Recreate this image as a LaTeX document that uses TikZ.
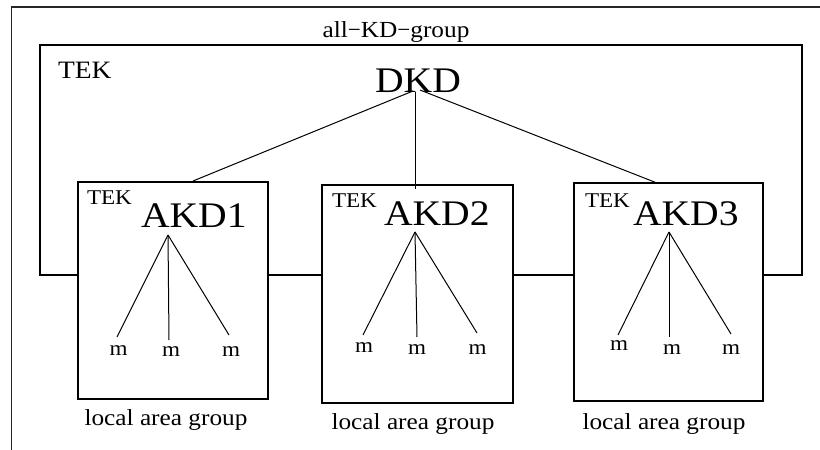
\documentclass[tikz,border=0pt]{standalone}
\usepackage{fontspec}
\setmainfont[FakeStretch=1.1]{Liberation Serif}
\begin{document}
\begin{tikzpicture}[x=1pt,y=-1pt,line width=1.1pt,
  grpbox/.style={draw,inner sep=0pt,outer sep=0pt,minimum width=#1},
  txt/.style={inner sep=0pt,outer sep=0pt,anchor=base west},
  ctxt/.style={inner sep=0pt,outer sep=0pt,anchor=base},
  f21/.style={font=\fontsize{21}{24}\selectfont},
  f23/.style={font=\fontsize{23}{26}\selectfont},
  f25/.style={font=\fontsize{25}{28}\selectfont},
  f36/.style={font=\fontsize{36}{40}\selectfont},
  thin/.style={line width=1pt}]
\useasboundingbox (0,0) rectangle (820,450);
% outer frame
\coordinate (fBL) at (11.5,452);
\coordinate (fTL) at (11.5,7);
\coordinate (fTR) at (822,7);
\draw[line width=1.3pt,black!85] (fBL) -- (fTL) -- (fTR);
% boxes
\node[grpbox=190pt,minimum height=217pt] (box1) at (173,290.5) {};
\node[grpbox=191pt,minimum height=218pt] (box2) at (417.5,294) {};
\node[grpbox=189pt,minimum height=218pt] (box3) at (668.5,292) {};
% loop
\coordinate (loopL) at (40,275);
\coordinate (loopR) at (802,275);
\coordinate (topL) at (40,45);
\coordinate (topR) at (802,45);
\draw (box1.west |- loopL) -- (loopL) -- (topL) -- (topR) -- (loopR) -- (box3.east |- loopR);
\draw (box1.east |- loopL) -- (box2.west |- loopL);
\draw (box2.east |- loopL) -- (box3.west |- loopL);
% texts
\node[ctxt,f23] (allkd) at (396,37) {all{\fontspec{Liberation Serif}−}KD{\fontspec{Liberation Serif}−}group};
\node[txt,f25] (tek0) at (58,78) {TEK};
\node[ctxt,f36] (dkd) at (418,92) {DKD};
\node[txt,f21] (tek1) at (87,204) {TEK};
\node[txt,f36] (akd1) at (141,227) {AKD1};
\node[txt,f21] (tek2) at (332,207) {TEK};
\node[txt,f36] (akd2) at (384,225) {AKD2};
\node[txt,f21] (tek3) at (585,207) {TEK};
\node[txt,f36] (akd3) at (633,225) {AKD3};
% local area group
\node[ctxt,f23] (lag1) at (166,425) {local area group};
\node[ctxt,f23] (lag2) at (413,429) {local area group};
\node[ctxt,f23] (lag3) at (664,429) {local area group};
% DKD connectors
\coordinate (dkdL) at (413,91);
\coordinate (dkdM) at (415,92);
\coordinate (dkdR) at (420,90);
\coordinate (b1t) at (193,181);
\coordinate (b2t) at (415,189);
\coordinate (b3t) at (657,183);
\draw[thin] (dkdL) -- (b1t);
\draw[thin] (dkdM) -- (b2t);
\draw[thin] (dkdR) -- (b3t);
% members
\node[ctxt,f21] (m11) at (118.5,355) {m};
\node[ctxt,f21] (m12) at (171,356) {m};
\node[ctxt,f21] (m13) at (231,356) {m};
\node[ctxt,f21] (m21) at (364,352) {m};
\node[ctxt,f21] (m22) at (417,354) {m};
\node[ctxt,f21] (m23) at (477.5,354) {m};
\node[ctxt,f21] (m31) at (619,350) {m};
\node[ctxt,f21] (m32) at (672,354) {m};
\node[ctxt,f21] (m33) at (731,354) {m};
\coordinate (a1) at (168,235);
\coordinate (e11) at (117,337);
\coordinate (e12) at (169,340);
\coordinate (e13) at (229,335);
\coordinate (a2) at (415,232);
\coordinate (e21) at (363,335);
\coordinate (e22) at (417,337);
\coordinate (e23) at (477,333);
\coordinate (a3) at (669,232);
\coordinate (e31) at (618,335);
\coordinate (e32) at (669,337);
\coordinate (e33) at (731,334);
\foreach \i in {1,2,3}{
  \foreach \j in {1,2,3}{
    \draw[thin] (a\i) -- (e\i\j);
  }
}
\end{tikzpicture}
\end{document}
